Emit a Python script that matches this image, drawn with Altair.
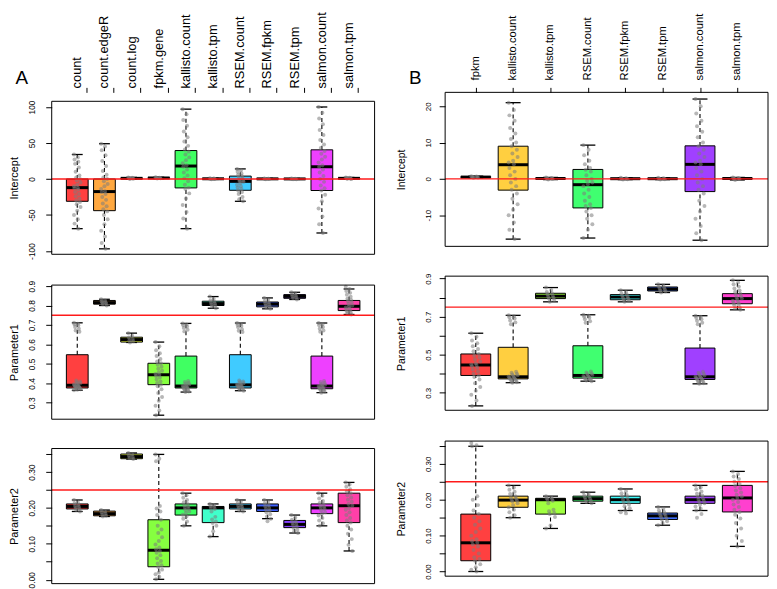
import json
import altair as alt
import pandas as pd

FONT = "Liberation Sans"

A_NAMES = ["count", "count.edgeR", "count.log", "fpkm.gene", "kallisto.count", "kallisto.tpm",
           "RSEM.count", "RSEM.fpkm", "RSEM.tpm", "salmon.count", "salmon.tpm"]
B_NAMES = ["fpkm", "kallisto.count", "kallisto.tpm", "RSEM.count", "RSEM.fpkm", "RSEM.tpm",
           "salmon.count", "salmon.tpm"]

A_COLORS = ["#FF4040", "#FFA840", "#EEFF40", "#86FF40", "#40FF62", "#40FFCB",
            "#40CBFF", "#4062FF", "#8640FF", "#EE40FF", "#FF40A8"]
B_COLORS = ["#FF4040", "#FFCF40", "#A0FF40", "#40FF70", "#40FFFF", "#4070FF", "#A040FF", "#FF40CF"]

# box statistics: [lower whisker, Q1, median, Q3, upper whisker]
A_INT_STATS = [[-69, -31, -12, 0, 34], [-97, -44, -17.5, 0, 49], [-0.5, 0.4, 0.9, 1.4, 2.2],
               [0.4, 1.0, 1.4, 1.8, 2.4], [-69, -12.4, 18, 39.5, 97], [-0.6, 0, 0.3, 0.6, 1.2],
               [-31, -15.7, -3.3, 4, 14], [-0.5, -0.1, 0.2, 0.5, 0.9], [-0.6, -0.2, 0.1, 0.4, 0.8],
               [-75, -16, 17, 40.5, 100], [-0.3, 0.4, 0.9, 1.4, 2.1]]
A_P1_STATS = [[0.364, 0.376, 0.39, 0.547, 0.711], [0.80, 0.807, 0.815, 0.826, 0.832],
              [0.61, 0.612, 0.625, 0.637, 0.658], [0.236, 0.393, 0.444, 0.503, 0.612],
              [0.355, 0.376, 0.386, 0.54, 0.708], [0.786, 0.80, 0.81, 0.822, 0.846],
              [0.362, 0.376, 0.392, 0.547, 0.71], [0.783, 0.793, 0.807, 0.818, 0.839],
              [0.831, 0.837, 0.847, 0.856, 0.868], [0.352, 0.372, 0.386, 0.54, 0.71],
              [0.754, 0.774, 0.796, 0.826, 0.885]]
A_P2_STATS = [[0.19, 0.197, 0.204, 0.211, 0.222], [0.176, 0.178, 0.184, 0.191, 0.194],
              [0.336, 0.337, 0.343, 0.35, 0.353], [0.001, 0.036, 0.082, 0.167, 0.349],
              [0.15, 0.18, 0.2, 0.211, 0.241], [0.12, 0.159, 0.2, 0.204, 0.211],
              [0.19, 0.197, 0.204, 0.211, 0.222], [0.17, 0.19, 0.2, 0.211, 0.222],
              [0.13, 0.145, 0.154, 0.165, 0.18], [0.15, 0.184, 0.2, 0.211, 0.241],
              [0.08, 0.159, 0.206, 0.241, 0.271]]
B_INT_STATS = [[0.3, 0.4, 0.5, 0.6, 0.75], [-16.6, -3.1, 3.9, 9, 21], [-0.2, 0, 0.1, 0.2, 0.4],
               [-16.3, -8, -1.6, 2.6, 9.3], [-0.2, -0.05, 0.05, 0.15, 0.3],
               [-0.2, -0.05, 0.05, 0.15, 0.3], [-16.9, -3.5, 4, 9.1, 22], [-0.3, 0, 0.1, 0.2, 0.4]]
B_P1_STATS = [[0.231, 0.391, 0.446, 0.504, 0.613], [0.353, 0.373, 0.384, 0.539, 0.707],
              [0.778, 0.795, 0.808, 0.823, 0.853], [0.361, 0.377, 0.391, 0.547, 0.71],
              [0.778, 0.789, 0.803, 0.816, 0.839], [0.827, 0.835, 0.845, 0.856, 0.87],
              [0.347, 0.37, 0.384, 0.535, 0.705], [0.736, 0.768, 0.795, 0.821, 0.891]]
B_P2_STATS = [[0.0, 0.03, 0.08, 0.16, 0.349], [0.15, 0.179, 0.199, 0.21, 0.24],
              [0.12, 0.16, 0.2, 0.204, 0.21], [0.19, 0.196, 0.203, 0.21, 0.221],
              [0.17, 0.19, 0.2, 0.21, 0.23], [0.129, 0.145, 0.155, 0.163, 0.18],
              [0.17, 0.19, 0.2, 0.21, 0.24], [0.07, 0.166, 0.205, 0.24, 0.279]]

# individual estimates (grey dots)
A_INT_POINTS = [
    [34, 30, 27, 24, 21, 16, 10, 5, 2, 0, -2, -5, -8, -10, -12, -13, -15, -18, -21, -24, -27, -30, -32, -35, -39, -44, -50, -56, -62, -69],
    [49, 45, 40, 33, 25, 18, 11, 6, 2, 0, -3, -7, -10, -14, -17, -18, -21, -25, -29, -34, -38, -42, -45, -50, -56, -63, -72, -80, -89, -97],
    [2.0, 1.6, 1.2, 0.9, 0.6, 0.3, 0.0],
    [2.3, 1.9, 1.6, 1.4, 1.2, 0.9, 0.5],
    [97, 90, 82, 74, 66, 58, 52, 46, 41, 38, 34, 30, 26, 22, 19, 17, 13, 9, 5, 1, -3, -8, -12, -14, -20, -27, -36, -46, -55, -69],
    [1.0, 0.7, 0.5, 0.3, 0.1, -0.1, -0.4],
    [14, 12, 10, 8, 6, 4, 3, 1, -1, -2, -3, -4, -6, -8, -10, -12, -14, -16, -18, -21, -25, -28, -31],
    [0.8, 0.5, 0.3, 0.2, 0.0, -0.2, -0.4],
    [0.7, 0.4, 0.2, 0.1, -0.1, -0.3, -0.5],
    [100, 92, 84, 76, 68, 61, 54, 48, 43, 39, 35, 31, 27, 23, 19, 17, 13, 9, 4, 0, -4, -9, -13, -16, -22, -31, -41, -52, -63, -75],
    [2.0, 1.6, 1.3, 1.0, 0.8, 0.5, 0.2, -0.2],
]
A_P1_POINTS = [
    [0.711, 0.706, 0.702, 0.697, 0.69, 0.68, 0.672, 0.665, 0.415, 0.41, 0.405, 0.401, 0.398, 0.395, 0.392, 0.39, 0.388, 0.385, 0.382, 0.38, 0.378, 0.376, 0.374, 0.372, 0.37, 0.367, 0.364],
    [0.832, 0.826, 0.821, 0.817, 0.814, 0.81, 0.806, 0.8],
    [0.658, 0.645, 0.636, 0.628, 0.622, 0.616, 0.61],
    [0.612, 0.59, 0.57, 0.555, 0.54, 0.525, 0.512, 0.503, 0.495, 0.485, 0.475, 0.465, 0.455, 0.448, 0.444, 0.438, 0.43, 0.42, 0.41, 0.4, 0.393, 0.385, 0.37, 0.35, 0.33, 0.31, 0.285, 0.26, 0.236],
    [0.708, 0.703, 0.698, 0.692, 0.685, 0.675, 0.667, 0.412, 0.407, 0.402, 0.398, 0.394, 0.39, 0.387, 0.384, 0.381, 0.378, 0.376, 0.373, 0.37, 0.366, 0.362, 0.358, 0.355],
    [0.846, 0.835, 0.826, 0.82, 0.814, 0.81, 0.805, 0.8, 0.795, 0.786],
    [0.71, 0.705, 0.7, 0.695, 0.688, 0.678, 0.67, 0.664, 0.414, 0.41, 0.405, 0.4, 0.397, 0.394, 0.392, 0.389, 0.386, 0.383, 0.38, 0.378, 0.376, 0.373, 0.37, 0.366, 0.362],
    [0.839, 0.83, 0.822, 0.815, 0.81, 0.806, 0.8, 0.795, 0.79, 0.783],
    [0.868, 0.862, 0.856, 0.851, 0.847, 0.843, 0.838, 0.831],
    [0.71, 0.704, 0.698, 0.69, 0.68, 0.672, 0.665, 0.412, 0.407, 0.402, 0.397, 0.393, 0.39, 0.386, 0.383, 0.38, 0.377, 0.374, 0.371, 0.368, 0.364, 0.36, 0.356, 0.352],
    [0.897, 0.885, 0.875, 0.865, 0.855, 0.845, 0.835, 0.828, 0.822, 0.815, 0.808, 0.8, 0.796, 0.79, 0.785, 0.78, 0.775, 0.77, 0.765, 0.76, 0.754],
]
A_P2_POINTS = [
    [0.222, 0.216, 0.212, 0.208, 0.205, 0.203, 0.2, 0.197, 0.194, 0.19],
    [0.194, 0.19, 0.187, 0.184, 0.181, 0.178, 0.176],
    [0.353, 0.349, 0.345, 0.342, 0.339, 0.336],
    [0.349, 0.337, 0.33, 0.205, 0.198, 0.19, 0.18, 0.167, 0.15, 0.14, 0.13, 0.118, 0.108, 0.098, 0.09, 0.085, 0.08, 0.075, 0.068, 0.06, 0.052, 0.045, 0.04, 0.035, 0.028, 0.02, 0.015, 0.008, 0.001],
    [0.241, 0.235, 0.228, 0.222, 0.216, 0.211, 0.207, 0.204, 0.2, 0.197, 0.194, 0.19, 0.186, 0.181, 0.176, 0.17, 0.162, 0.15],
    [0.211, 0.208, 0.205, 0.203, 0.2, 0.197, 0.19, 0.175, 0.168, 0.162, 0.158, 0.15, 0.135, 0.12],
    [0.222, 0.217, 0.213, 0.209, 0.206, 0.203, 0.2, 0.197, 0.193, 0.19],
    [0.222, 0.217, 0.212, 0.208, 0.204, 0.2, 0.196, 0.192, 0.188, 0.182, 0.176, 0.17, 0.163],
    [0.18, 0.173, 0.167, 0.162, 0.158, 0.155, 0.152, 0.148, 0.144, 0.139, 0.134, 0.13],
    [0.241, 0.234, 0.226, 0.219, 0.214, 0.21, 0.206, 0.203, 0.2, 0.197, 0.193, 0.188, 0.184, 0.179, 0.172, 0.165, 0.157, 0.15],
    [0.271, 0.265, 0.259, 0.252, 0.246, 0.241, 0.235, 0.229, 0.223, 0.217, 0.211, 0.206, 0.2, 0.195, 0.188, 0.18, 0.172, 0.165, 0.159, 0.15, 0.14, 0.128, 0.113, 0.097, 0.08],
]
B_INT_POINTS = [
    [0.75, 0.65, 0.55, 0.5, 0.45, 0.38, 0.3],
    [21, 19, 17.5, 16, 14, 12.5, 11, 10, 9, 8, 7, 6, 5, 4.5, 4, 3, 2, 1, 0, -1, -2, -3, -4, -5.5, -7, -8.5, -10, -12, -14, -16.6],
    [0.4, 0.25, 0.15, 0.1, 0.05, 0.0, -0.2],
    [9.3, 8, 6.5, 5, 4, 3, 2.5, 2, 1, 0, -0.5, -1, -1.5, -2, -3, -4, -5, -6, -7, -7.5, -8, -9, -10, -11, -12.5, -14, -16.3],
    [0.3, 0.2, 0.1, 0.05, 0.0, -0.1, -0.2],
    [0.3, 0.2, 0.1, 0.05, 0.0, -0.1, -0.2],
    [22, 20, 18, 16, 14.5, 13, 11.5, 10, 9, 8, 7, 6, 5, 4.5, 4, 3, 2, 1, 0, -1, -2, -3, -4, -6, -7.5, -9, -11, -13, -15, -16.9],
    [0.4, 0.25, 0.15, 0.1, 0.05, 0.0, -0.3],
]
B_P1_POINTS = [
    [0.613, 0.595, 0.575, 0.56, 0.545, 0.53, 0.518, 0.504, 0.495, 0.485, 0.475, 0.465, 0.455, 0.449, 0.446, 0.44, 0.432, 0.422, 0.412, 0.4, 0.391, 0.383, 0.37, 0.35, 0.33, 0.31, 0.29, 0.26, 0.231],
    [0.707, 0.702, 0.697, 0.69, 0.68, 0.67, 0.66, 0.41, 0.405, 0.4, 0.396, 0.392, 0.388, 0.385, 0.382, 0.379, 0.376, 0.373, 0.37, 0.367, 0.363, 0.359, 0.355, 0.353],
    [0.853, 0.84, 0.83, 0.823, 0.816, 0.81, 0.805, 0.8, 0.795, 0.788, 0.778],
    [0.71, 0.705, 0.7, 0.694, 0.686, 0.676, 0.668, 0.412, 0.407, 0.402, 0.398, 0.394, 0.391, 0.388, 0.385, 0.382, 0.379, 0.377, 0.374, 0.371, 0.368, 0.364, 0.361],
    [0.839, 0.83, 0.822, 0.816, 0.81, 0.805, 0.8, 0.795, 0.789, 0.784, 0.778],
    [0.87, 0.864, 0.858, 0.852, 0.847, 0.843, 0.838, 0.833, 0.827],
    [0.705, 0.7, 0.694, 0.687, 0.678, 0.668, 0.66, 0.41, 0.405, 0.4, 0.396, 0.391, 0.387, 0.384, 0.381, 0.378, 0.375, 0.372, 0.369, 0.365, 0.36, 0.355, 0.35, 0.347],
    [0.891, 0.88, 0.87, 0.858, 0.848, 0.838, 0.83, 0.821, 0.815, 0.808, 0.8, 0.795, 0.79, 0.784, 0.778, 0.772, 0.768, 0.76, 0.75, 0.742, 0.736],
]
B_P2_POINTS = [
    [0.358, 0.352, 0.349, 0.21, 0.2, 0.185, 0.17, 0.16, 0.15, 0.14, 0.13, 0.12, 0.11, 0.1, 0.09, 0.085, 0.08, 0.075, 0.07, 0.06, 0.05, 0.04, 0.035, 0.03, 0.02, 0.012, 0.005, 0.0],
    [0.24, 0.234, 0.228, 0.222, 0.216, 0.21, 0.206, 0.203, 0.2, 0.198, 0.195, 0.19, 0.185, 0.179, 0.172, 0.165, 0.157, 0.15],
    [0.21, 0.207, 0.204, 0.202, 0.2, 0.197, 0.19, 0.172, 0.168, 0.163, 0.16, 0.152, 0.128, 0.12],
    [0.221, 0.216, 0.212, 0.209, 0.206, 0.203, 0.2, 0.197, 0.194, 0.19],
    [0.23, 0.224, 0.218, 0.213, 0.209, 0.205, 0.2, 0.196, 0.192, 0.187, 0.182, 0.176, 0.17, 0.165, 0.162],
    [0.18, 0.175, 0.17, 0.166, 0.163, 0.16, 0.157, 0.155, 0.152, 0.148, 0.145, 0.14, 0.135, 0.129],
    [0.24, 0.235, 0.229, 0.223, 0.217, 0.212, 0.208, 0.204, 0.2, 0.197, 0.194, 0.19, 0.186, 0.181, 0.175, 0.17, 0.16, 0.15],
    [0.279, 0.272, 0.265, 0.258, 0.25, 0.244, 0.238, 0.232, 0.226, 0.22, 0.214, 0.209, 0.205, 0.2, 0.194, 0.187, 0.18, 0.172, 0.166, 0.158, 0.148, 0.135, 0.12, 0.1, 0.085, 0.07],
]

INT_TICKS_A = [-100, -50, 0, 50, 100]
INT_TICKS_B = [-10, 0, 10, 20]
P1_TICKS = [0.3, 0.4, 0.5, 0.6, 0.7, 0.8, 0.9]
P2_TICKS = [0.0, 0.05, 0.1, 0.15, 0.2, 0.25, 0.3, 0.35]
REF = {"Intercept": 0, "Parameter1": 0.75, "Parameter2": 0.25}

LAB_INT = "'' + datum.value"
LAB_P1_ALL = "format(datum.value, '.1f')"
LAB_P1_ODD = "(round(datum.value * 10) % 2 == 1) ? format(datum.value, '.1f') : ''"
LAB_P2 = "(round(datum.value * 100) % 10 == 0) ? format(datum.value, '.2f') : ''"


def frames(names, stats, points, colors):
    rows = []
    for i, (nm, st, col) in enumerate(zip(names, stats, colors), start=1):
        lo, q1, md, q3, hi = st
        rows.append(dict(i=i, name=nm, lo=lo, q1=q1, med=md, q3=q3, hi=hi, col=col))
    prow = []
    for i, vals in enumerate(points, start=1):
        for k, v in enumerate(vals):
            prow.append(dict(i=i, k=k, v=v))
    return pd.DataFrame(rows), pd.DataFrame(prow)


def panel(names, colors, stats, points, title, ydom, yticks, ylab, W, H, extra,
          top_axis, lab_fs, lab_y, letter, ypad, tpad, yfs, tfs):
    n = len(names)
    sdf, pdf = frames(names, stats, points, colors)
    lo, hi = ydom
    xs = alt.Scale(domain=[0.5 - 0.04 * n, n + 0.5 + 0.04 * n], nice=False, zero=False)
    ys = alt.Scale(domain=[lo, hi + extra * (hi - lo) / H], nice=False, zero=False)
    if top_axis:
        xaxis = alt.Axis(orient="top", values=list(range(1, n + 1)), labels=False,
                         tickSize=5, domain=False, grid=False, title=None, position=extra)
    else:
        xaxis = None
    yaxis = alt.Axis(values=yticks, labelExpr=ylab, labelAngle=270, labelAlign="center",
                     labelBaseline="bottom", labelFontSize=yfs, labelPadding=ypad, tickSize=6,
                     domain=False, grid=False, title=title, titleFontSize=tfs,
                     titleFontWeight="normal", titlePadding=tpad, titleY=extra + H / 2,
                     labelOverlap=False, labelFlush=False, labelLimit=400)

    def X(f):
        return alt.X(f, type="quantitative", scale=xs, axis=xaxis)

    def Y(f):
        return alt.Y(f, type="quantitative", scale=ys, axis=yaxis)

    base = alt.Chart(sdf).transform_calculate(
        bl="datum.i - 0.4", br="datum.i + 0.4", cl="datum.i - 0.2", cr="datum.i + 0.2")
    dash = dict(strokeDash=[4, 3], strokeWidth=1.1, color="black")
    w_hi = base.mark_rule(**dash).encode(x=X("i"), y=Y("q3"), y2="hi:Q")
    w_lo = base.mark_rule(**dash).encode(x=X("i"), y=Y("lo"), y2="q1:Q")
    c_hi = base.mark_rule(color="black", strokeWidth=1.3).encode(x=X("cl"), x2="cr:Q", y=Y("hi"))
    c_lo = base.mark_rule(color="black", strokeWidth=1.3).encode(x=X("cl"), x2="cr:Q", y=Y("lo"))
    box = base.mark_rect(stroke="black", strokeWidth=1).encode(
        x=X("bl"), x2="br:Q", y=Y("q1"), y2="q3:Q", fill=alt.Fill("col:N", scale=None))
    med = base.mark_rule(color="black", strokeWidth=3).encode(x=X("bl"), x2="br:Q", y=Y("med"))
    pts = alt.Chart(pdf).transform_calculate(
        xj="datum.i + ((datum.k * 7) % 13 - 6) * 0.02"
    ).mark_circle(size=16, color="#7c7c7c", opacity=0.55).encode(x=X("xj"), y=Y("v"))
    refdf = pd.DataFrame({"r": [REF[title]]})
    red = alt.Chart(refdf).mark_rule(color="#ff1a1a", strokeWidth=1.4).encode(
        x=alt.value(0), x2=alt.value(W), y=Y("r"))
    one = pd.DataFrame({"a": [0]})
    frame = alt.Chart(one).mark_rect(fillOpacity=0, stroke="black", strokeWidth=1).encode(
        x=alt.value(0), x2=alt.value(W), y=alt.value(extra), y2=alt.value(H + extra))
    layers = [w_hi, w_lo, c_hi, c_lo, box, med, pts, red, frame]
    if top_axis:
        cats = alt.Chart(sdf).mark_text(angle=270, align="left", baseline="middle",
                                        fontSize=lab_fs, font=FONT, color="black").encode(
            x=X("i"), y=alt.value(lab_y), text="name:N")
        layers.append(cats)
    if letter:
        layers.append(alt.Chart(one).mark_text(fontSize=19, font=FONT, align="center",
                                               baseline="middle").encode(
            x=alt.value(-30), y=alt.value(-14), text=alt.value(letter)))
    return alt.layer(*layers).properties(width=W, height=H + extra)


W = 325
A1 = panel(A_NAMES, A_COLORS, A_INT_STATS, A_INT_POINTS, "Intercept", [-104.6, 107.9],
           INT_TICKS_A, LAB_INT, W, 154, 9, True, 12.9, -4, "A", 9, 8.5, 8.5, 11)
A2 = panel(A_NAMES, A_COLORS, A_P1_STATS, A_P1_POINTS, "Parameter1", [0.2154, 0.905],
           P1_TICKS, LAB_P1_ALL, W, 135, 9, False, 12.9, 0, None, 9, 8.5, 8.5, 11)
A3 = panel(A_NAMES, A_COLORS, A_P2_STATS, A_P2_POINTS, "Parameter2", [-0.011, 0.3654],
           P2_TICKS, LAB_P2, W, 136, 7.5, False, 12.9, 0, None, 9, 8.5, 8.5, 11)
B1 = panel(B_NAMES, B_COLORS, B_INT_STATS, B_INT_POINTS, "Intercept", [-18.59, 23.84],
           INT_TICKS_B, LAB_INT, W, 155, 0, True, 11.3, -12, "B", 7, 18, 8, 10.5)
B2 = panel(B_NAMES, B_COLORS, B_P1_STATS, B_P1_POINTS, "Parameter1", [0.208, 0.913],
           P1_TICKS, LAB_P1_ODD, W, 135, 0, False, 11.3, 0, None, 7, 18, 8, 10.5)
B3 = panel(B_NAMES, B_COLORS, B_P2_STATS, B_P2_POINTS, "Parameter2", [-0.013, 0.3635],
           P2_TICKS, LAB_P2, W, 136, 0, False, 11.3, 0, None, 7, 18, 8, 10.5)

chart = alt.concat(A1, B1, A2, B2, A3, B3, columns=2,
                   spacing={"row": 22, "column": 71}, bounds="flush", align="each"
).properties(
    padding={"top": 2, "left": 0, "right": 0, "bottom": 0},
    background="white",
).configure_view(stroke=None).configure_axis(
    labelFont=FONT, titleFont=FONT, labelColor="black", titleColor="black",
    tickColor="black", tickWidth=1
).configure_text(font=FONT)

chart.save("out.html", embed_options={"renderer": "svg", "actions": False})
